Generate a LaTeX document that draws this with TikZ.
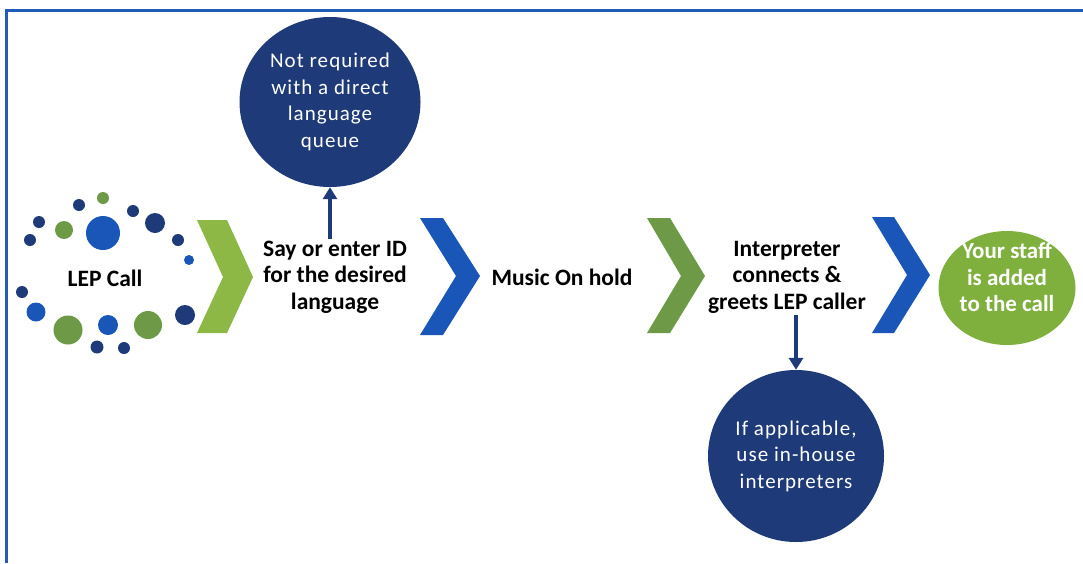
\documentclass[tikz,border=0pt]{standalone}
\usepackage{fontspec}
\setmainfont{Carlito}
\newfontfamily\circfont[LetterSpace=5]{Carlito}
\usetikzlibrary{shapes.geometric,arrows.meta}
\definecolor{navy}{HTML}{1F3A78}
\definecolor{midblue}{HTML}{1A56B8}
\definecolor{leafgreen}{HTML}{6E9A48}
\definecolor{litegreen}{HTML}{8DB846}
\definecolor{ballgreen}{HTML}{7FB03E}
\definecolor{framecol}{HTML}{1F5BB8}
\tikzset{
  steptext/.style={align=center,font=\fontsize{23.5}{26.5}\selectfont\bfseries,text=black,inner sep=2pt},
  bubble/.style={ellipse,fill=navy,text=white,align=center,inner sep=0pt,font=\circfont\fontsize{21}{26.5}\selectfont},
  arr/.style={draw=navy,line width=4pt,-{Triangle[width=14pt,length=12pt]}},
  dotnavy/.style={fill=navy},
  dotblue/.style={fill=midblue},
  dotgreen/.style={fill=leafgreen}
}
\begin{document}
\begin{tikzpicture}[x=1pt,y=-1pt]
\useasboundingbox (0,0) rectangle (1083,563);
\fill[white] (0,0) rectangle (1083,563);
% frame
\draw[framecol,line width=3pt] (6,563) -- (6,10) -- (1083,10);
% dots
\fill[dotgreen] (103,198) circle (6);
\fill[dotnavy] (79,205) circle (6);
\fill[dotnavy] (133,211) circle (6);
\fill[dotnavy] (39,222) circle (6);
\fill[dotgreen] (64,230) circle (9);
\fill[dotblue] (103,233) circle (17);
\fill[dotnavy] (155,223) circle (10);
\fill[dotnavy] (30,240) circle (6);
\fill[dotnavy] (178,240) circle (6);
\fill[dotblue] (189,260) circle (5);
\fill[dotnavy] (22,292) circle (6);
\fill[dotblue] (36,312) circle (9.5);
\fill[dotgreen] (68,330) circle (14.5);
\fill[dotblue] (108,325) circle (10);
\fill[dotgreen] (148,325) circle (14);
\fill[dotnavy] (185,315) circle (10);
\fill[dotnavy] (97,347) circle (6.5);
\fill[dotnavy] (124,348) circle (6);
% chevrons
\fill[litegreen] (197,220) -- (227,220) -- (253,277) -- (227,333) -- (197,333) -- (223,277) -- cycle;
\fill[midblue] (420,218) -- (443,218) -- (480,276) -- (443,335) -- (420,335) -- (456,276) -- cycle;
\fill[leafgreen] (647,218) -- (670,218) -- (705,276) -- (670,333) -- (647,333) -- (681,276) -- cycle;
\fill[midblue] (872,217) -- (894,217) -- (930,275) -- (894,333) -- (872,333) -- (907,275) -- cycle;
% nodes
\node[steptext] (lep) at (105,278) {LEP Call};
\node[steptext] (say) at (335,277) {Say or enter ID\\for the desired\\language};
\node[steptext] (music) at (562,277) {Music On hold};
\node[steptext] (interp) at (787,277) {Interpreter\\connects \&\\greets LEP caller};
\node[bubble,minimum width=181pt,minimum height=170pt] (nr) at (330,102) {Not required\\with a direct\\language\\queue};
\node[bubble,minimum width=176pt,minimum height=172pt] (ifapp) at (796,456) {If applicable,\\use in-house\\interpreters};
\node[ellipse,fill=ballgreen,inner sep=0pt,minimum width=137pt,minimum height=114pt] (staff) at (1007,288) {};
\node[align=center,text=white,inner sep=0pt,font=\fontsize{23}{26.5}\selectfont\bfseries] (stafftxt) at ([yshift=11pt]staff.center) {Your staff\\is added\\to the call};
% arrows
\draw[arr] (nr.south |- say.north) -- (nr.south);
\draw[arr] (ifapp.north |- interp.south) -- (ifapp.north);
\end{tikzpicture}
\end{document}
